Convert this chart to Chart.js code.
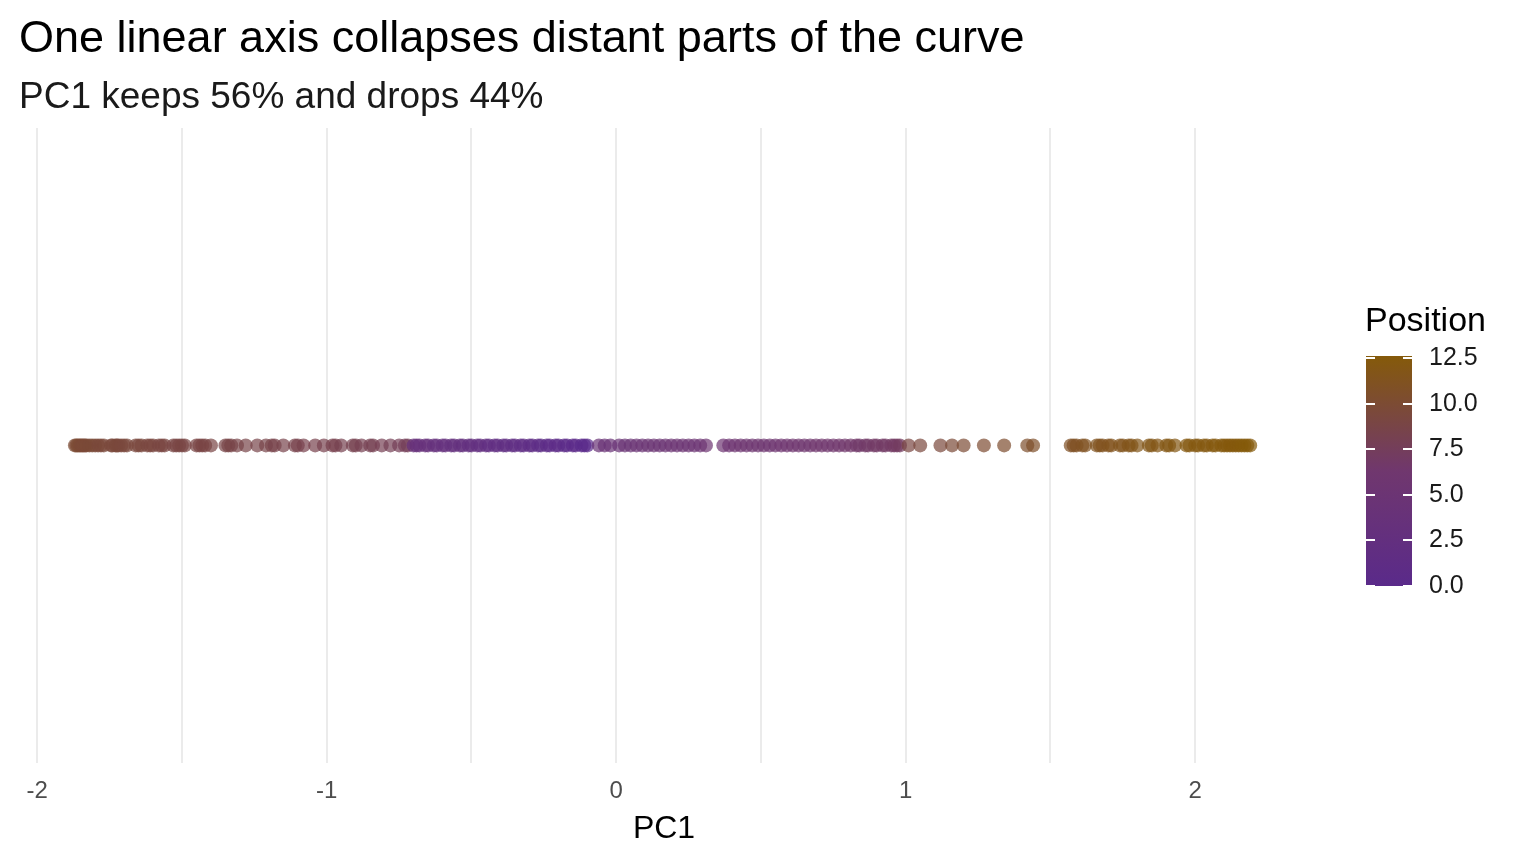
<!DOCTYPE html>
<html>
<head>
<meta charset="utf-8">
<script src="https://cdn.jsdelivr.net/npm/chart.js@4"></script>
<style>
  body { margin: 0; background: #fff; font-family: "Liberation Sans", Arial, sans-serif; }
  #wrap { position: relative; width: 1536px; height: 864px; }
  #titulo { position: absolute; left: 19px; top: 11px; font-size: 45px; color: #000; }
  #subtitulo { position: absolute; left: 19px; top: 75px; font-size: 37px; color: #1a1a1a; }
  #legenda { position: absolute; left: 1365px; top: 300px; }
  #legenda .nome { font-size: 34px; color: #000; }
  #barra { position: absolute; left: 1px; top: 56px; width: 46px; height: 230px;
           background: linear-gradient(to top, #5a2a8a, #70376e 50%, #855a0a); }
  .marca { position: absolute; left: 64px; font-size: 25px; color: #1a1a1a; }
  .tick { position: absolute; width: 9px; height: 2px; background: #fff; }
</style>
</head>
<body>
<div id="wrap">
  <canvas id="grafico" width="1536" height="864"></canvas>
  <div id="titulo">One linear axis collapses distant parts of the curve</div>
  <div id="subtitulo">PC1 keeps 56% and drops 44%</div>
  <div id="legenda">
    <div class="nome">Position</div>
    <div id="barra"></div>
  </div>
</div>
<script>
const pc1 = [
  -1.87,-1.865,-1.86,-1.855,-1.85,-1.845,-1.84,-1.835,-1.83,-1.82,-1.81,-1.80,-1.79,-1.78,-1.77,
  -1.745,-1.74,-1.73,-1.725,-1.72,-1.71,-1.70,-1.69,
  -1.66,-1.65,-1.64,-1.62,-1.61,-1.60,-1.58,-1.57,-1.56,-1.53,-1.52,-1.51,-1.50,-1.49,
  -1.45,-1.44,-1.43,-1.42,-1.40,
  -1.35,-1.34,-1.33,-1.31,-1.28,
  -1.24,-1.21,-1.19,-1.18,-1.15,-1.11,-1.10,-1.08,
  -1.04,-1.01,-0.98,-0.97,-0.95,-0.91,-0.90,
  -0.88,-0.85,-0.84,-0.81,-0.78,-0.75,-0.73,-0.72,
  -0.70,-0.69,-0.68,-0.66,-0.65,-0.63,-0.62,-0.60,-0.59,-0.57,-0.56,-0.54,-0.53,-0.51,-0.50,
  -0.48,-0.47,-0.45,-0.44,-0.42,-0.41,-0.39,-0.38,-0.36,-0.35,-0.33,-0.32,-0.30,-0.29,
  -0.27,-0.26,-0.24,-0.23,-0.21,-0.20,-0.18,-0.17,-0.15,-0.14,-0.12,-0.11,-0.10,
  -0.06,-0.04,-0.02,0.01,0.03,0.05,0.07,0.09,0.11,0.13,0.15,0.17,0.19,0.21,0.23,0.25,0.27,0.29,0.31,
  0.37,0.39,0.41,0.43,0.45,0.47,0.49,0.51,0.53,0.55,0.57,0.59,0.61,0.63,0.65,0.67,0.69,0.71,
  0.73,0.75,0.77,0.79,0.81,0.83,0.84,0.86,0.87,0.89,0.90,0.92,0.93,0.95,0.96,0.97,0.98,
  1.01,1.05,1.12,1.16,1.20,1.27,1.34,1.42,1.44,
  1.57,1.58,1.59,1.61,1.62,1.66,1.67,1.68,1.70,1.71,1.74,1.75,1.77,1.78,1.80,1.84,1.85,1.87,
  1.90,1.91,1.93,1.97,1.98,2.00,2.01,2.03,2.04,2.06,2.07,2.09,2.10,2.11,2.12,2.13,2.14,2.15,
  2.16,2.17,2.18,2.19
];
const posicao = [
  9.8,9.8,9.8,9.8,9.7,9.7,9.7,9.7,9.7,9.6,9.6,9.6,9.5,9.5,9.5,
  9.4,9.4,9.4,9.4,9.4,9.3,9.3,9.3,
  9.2,9.2,9.2,9.1,9.1,9.1,9.0,9.0,9.0,8.9,8.9,8.9,8.9,8.9,
  8.8,8.8,8.8,8.8,8.8,
  8.7,8.7,8.7,8.6,8.6,
  8.5,8.5,8.5,8.4,8.4,8.4,8.3,8.3,
  8.3,8.2,8.2,8.2,8.1,8.1,8.1,
  8.0,8.0,8.0,7.9,7.8,7.7,7.6,7.6,
  3.6,3.5,3.4,3.3,3.3,3.2,3.1,3.0,3.0,2.9,2.8,2.7,2.6,2.5,2.5,
  2.4,2.3,2.2,2.1,2.0,1.9,1.8,1.7,1.6,1.5,1.4,1.3,1.2,1.1,
  1.0,0.9,0.8,0.7,0.6,0.5,0.4,0.3,0.2,0.2,0.1,0.1,0.0,
  4.4,4.4,4.5,4.5,4.6,4.6,4.7,4.7,4.8,4.8,4.9,4.9,5.0,5.0,5.1,5.1,5.2,5.2,5.3,
  5.4,5.4,5.5,5.5,5.6,5.6,5.7,5.7,5.8,5.8,5.9,5.9,6.0,6.0,6.1,6.1,6.2,6.2,
  6.3,6.3,6.4,6.4,6.5,6.5,6.6,6.6,6.7,6.7,6.8,6.8,6.9,6.9,7.0,7.0,7.1,
  9.0,9.2,9.4,9.6,9.8,10.0,10.2,10.4,10.5,
  10.8,10.8,10.9,10.9,11.0,11.1,11.1,11.2,11.2,11.3,11.4,11.4,11.5,11.5,11.6,11.7,11.7,11.8,
  11.9,11.9,12.0,12.1,12.1,12.1,12.2,12.2,12.2,12.2,12.3,12.3,12.3,12.3,12.4,12.4,12.4,12.4,
  12.5,12.5,12.5,12.5
];
const marcasLegenda = [0, 2.5, 5, 7.5, 10, 12.5];
const ticksX = [-2, -1, 0, 1, 2];

const corBaixa = [90, 42, 138], corMeio = [112, 55, 110], corAlta = [133, 90, 10];
function corDe(p, alfa) {
  const t = p / 12.5;
  let a, b, u;
  if (t < 0.5) { a = corBaixa; b = corMeio; u = t / 0.5; }
  else { a = corMeio; b = corAlta; u = (t - 0.5) / 0.5; }
  const c = a.map((v, i) => Math.round(v + (b[i] - v) * u));
  return `rgba(${c[0]},${c[1]},${c[2]},${alfa})`;
}

// legenda
const leg = document.getElementById("legenda");
marcasLegenda.forEach(m => {
  const y = 56 + 230 - (m / 12.5) * 228 - 1;
  const lab = document.createElement("div");
  lab.className = "marca";
  lab.textContent = m.toFixed(1);
  lab.style.top = (y - 15) + "px";
  leg.appendChild(lab);
  [1, 38].forEach(x => {
    const t = document.createElement("div");
    t.className = "tick";
    t.style.left = x + "px";
    t.style.top = y + "px";
    leg.appendChild(t);
  });
});

new Chart(document.getElementById("grafico").getContext("2d"), {
  type: "scatter",
  data: {
    datasets: [{
      data: pc1.map(x => ({ x, y: 0 })),
      backgroundColor: posicao.map(p => corDe(p, 0.7)),
      borderWidth: 0,
      pointRadius: 7,
      pointHoverRadius: 7
    }]
  },
  options: {
    responsive: false,
    animation: false,
    layout: { padding: { left: 17, right: 225, top: 128, bottom: 16 } },
    plugins: { legend: { display: false }, tooltip: { enabled: false } },
    scales: {
      x: {
        min: -2.07, max: 2.4,
        afterBuildTicks: ax => { ax.ticks = [-2,-1.5,-1,-0.5,0,0.5,1,1.5,2].map(v => ({ value: v })); },
        ticks: {
          callback: v => ticksX.includes(v) ? String(v) : "",
          color: "#4d4d4d", font: { size: 24, family: "Liberation Sans" }, padding: 14
        },
        grid: { color: "#ebebeb", lineWidth: 2, drawTicks: false },
        border: { display: false },
        title: { display: true, text: "PC1", color: "#000", font: { size: 32, family: "Liberation Sans" }, padding: { top: -10, bottom: 0 } }
      },
      y: { display: false, min: -1, max: 1 }
    }
  }
});
</script>
</body>
</html>
